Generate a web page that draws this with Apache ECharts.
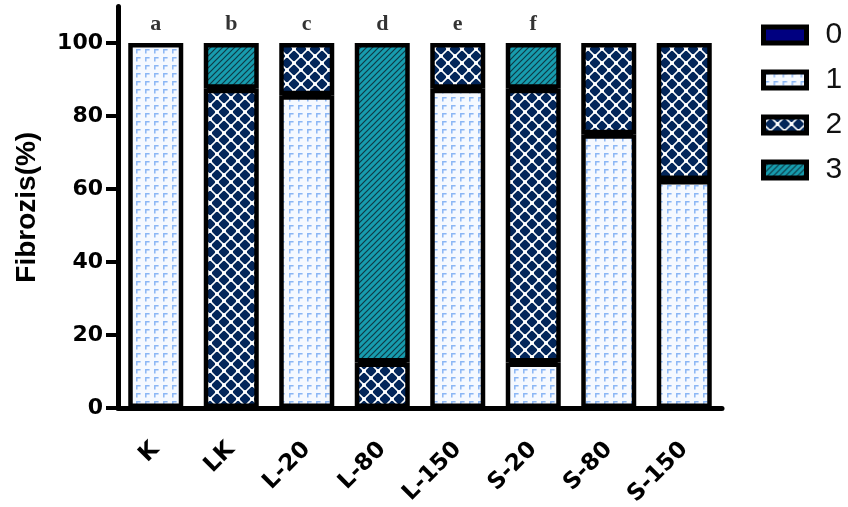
<!DOCTYPE html>
<html>
<head>
<meta charset="utf-8">
<script src="https://cdn.jsdelivr.net/npm/echarts@6/dist/echarts.min.js"></script>
<style>html,body{margin:0;padding:0;background:#fff}#c{width:848px;height:507px}</style>
</head>
<body>
<div id="c"></div>
<script>
const categories = ['K', 'LK', 'L-20', 'L-80', 'L-150', 'S-20', 'S-80', 'S-150'];
const seriesNames = ['0', '1', '2', '3'];
const score0 = [0, 0, 0, 0, 0, 0, 0, 0];
const score1 = [100, 0, 85.7, 0, 87.5, 12.5, 75, 62.5];
const score2 = [0, 87.5, 14.3, 12.5, 12.5, 75, 25, 37.5];
const score3 = [0, 12.5, 0, 87.5, 0, 12.5, 0, 0];
const letters = ['a', 'b', 'c', 'd', 'e', 'f', '', ''];
const letterLevel = 105.2;
const yTicks = [0, 20, 40, 60, 80, 100];

function makeCanvas(w, h, draw) {
  const c = document.createElement('canvas');
  c.width = w; c.height = h;
  draw(c.getContext('2d'));
  return c;
}
const pat1 = makeCanvas(9, 8, ctx => {
  ctx.fillStyle = '#f5f9ff'; ctx.fillRect(0, 0, 9, 8);
  ctx.strokeStyle = '#8ab6f5'; ctx.lineWidth = 1.5;
  ctx.beginPath(); ctx.moveTo(1.8, 5.4); ctx.lineTo(1.8, 1.8); ctx.lineTo(5.6, 1.8); ctx.stroke();
});
const pat2 = makeCanvas(14, 14, ctx => {
  ctx.fillStyle = '#03265a'; ctx.fillRect(0, 0, 14, 14);
  ctx.strokeStyle = '#ffffff'; ctx.lineWidth = 1.6; ctx.lineCap = 'round';
  for (const dx of [-14, 0, 14]) for (const dy of [-14, 0, 14]) {
    ctx.beginPath();
    ctx.moveTo(7 + dx, 0 + dy); ctx.lineTo(14 + dx, 7 + dy); ctx.lineTo(7 + dx, 14 + dy); ctx.lineTo(0 + dx, 7 + dy); ctx.closePath();
    ctx.stroke();
  }
  ctx.fillStyle = '#ffffff';
  for (const [x, y] of [[7, 0], [0, 7], [14, 7], [7, 14]]) {
    ctx.beginPath(); ctx.arc(x, y, 2.1, 0, Math.PI * 2); ctx.fill();
  }
});
const pat3 = makeCanvas(6, 6, ctx => {
  ctx.fillStyle = '#179cae'; ctx.fillRect(0, 0, 6, 6);
  ctx.strokeStyle = '#0f3a46'; ctx.lineWidth = 1.2;
  ctx.beginPath();
  ctx.moveTo(0, 6); ctx.lineTo(6, 0);
  ctx.moveTo(-1, 1); ctx.lineTo(1, -1);
  ctx.moveTo(5, 7); ctx.lineTo(7, 5);
  ctx.stroke();
});
const fills = ['#000080', { image: pat1, repeat: 'repeat' }, { image: pat2, repeat: 'repeat' }, { image: pat3, repeat: 'repeat' }];
const values = [score0, score1, score2, score3];

// inner boundaries between non-empty stacked segments (derived from the data)
const boundaries = [];
categories.forEach((c, i) => {
  let cum = 0;
  const segs = values.map(v => v[i]).filter(v => v > 0);
  segs.slice(0, -1).forEach(v => { cum += v; boundaries.push([i, cum]); });
});

const chart = echarts.init(document.getElementById('c'), null, { renderer: 'canvas' });
const BAR_W = 55;
const barSeries = seriesNames.map((n, i) => ({
  name: n, type: 'bar', stack: 'total',
  data: values[i].map(v => (v === 0 ? '-' : v)),
  barWidth: BAR_W,
  itemStyle: { color: fills[i], borderColor: '#000', borderWidth: 4.5 },
  emphasis: { disabled: true }
}));
chart.setOption({
  animation: false,
  grid: { left: 118, right: 126, top: 6.5, bottom: 99, containLabel: false, outerBoundsMode: 'none' },
  legend: {
    orient: 'vertical', left: 761, top: 20, padding: 0, icon: 'rect',
    itemWidth: 43, itemHeight: 16, itemGap: 15,
    data: seriesNames,
    itemStyle: { borderColor: '#000', borderWidth: 5 },
    textStyle: { fontFamily: 'Liberation Sans', fontSize: 30, color: '#111', lineHeight: 30, padding: [0, 0, 0, 14] },
    selectedMode: false
  },
  xAxis: {
    type: 'category', data: categories,
    axisLine: { lineStyle: { color: '#000', width: 5 } },
    axisTick: { alignWithLabel: true, length: 12, lineStyle: { color: '#000', width: 4 } },
    axisLabel: { rotate: 45, margin: 38, fontFamily: 'DejaVu Sans', fontWeight: 'bold', fontSize: 23, color: '#000', interval: 0 }
  },
  yAxis: {
    type: 'value', min: 0, max: 110,
    name: 'Fibrozis(%)', nameLocation: 'middle', nameGap: 77,
    nameTextStyle: { fontFamily: 'Liberation Sans', fontWeight: 'bold', fontSize: 28, color: '#000' },
    axisLine: { show: true, lineStyle: { color: '#000', width: 5 } },
    axisTick: { show: true, length: 12, customValues: yTicks, lineStyle: { color: '#000', width: 4 } },
    axisLabel: { customValues: yTicks, margin: 15, fontFamily: 'DejaVu Sans', fontWeight: 'bold', fontSize: 22, color: '#000' },
    splitLine: { show: false }
  },
  series: barSeries.concat([{
    type: 'custom', data: boundaries, z: 5, silent: true,
    renderItem: (params, api) => {
      const p = api.coord([api.value(0), api.value(1)]);
      const half = BAR_W / 2 - 3;
      return { type: 'line', shape: { x1: p[0] - half, y1: p[1], x2: p[0] + half, y2: p[1] }, style: { stroke: '#000', lineWidth: 4 } };
    }
  }, {
    type: 'scatter', data: letters.map((l, i) => [i, letterLevel]).filter((d, i) => letters[i] !== ''),
    symbolSize: 1, itemStyle: { color: 'rgba(0,0,0,0)' }, silent: true,
    label: { show: true, position: 'inside', formatter: p => letters[p.dataIndex], fontFamily: 'Liberation Serif', fontWeight: 'bold', fontSize: 22, color: '#000' }
  }])
});
</script>
</body>
</html>
